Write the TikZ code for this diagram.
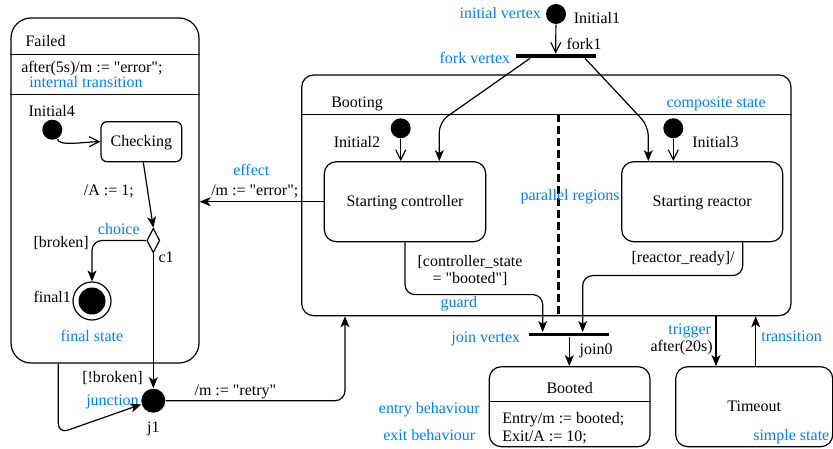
\documentclass[tikz,border=0pt]{standalone}
\usepackage{fontspec}
\setmainfont{Liberation Serif}[Ligatures=TeXOff]
\usepackage{tikz}
\usetikzlibrary{shapes.geometric,arrows.meta}
\definecolor{umlblue}{RGB}{0,127,255}

\begin{document}
\begin{tikzpicture}[x=1pt,y=-1pt,line width=1.2pt,
  font=\fontsize{16}{17.7}\selectfont,
  state/.style={draw,rounded corners=12pt,inner sep=0pt,text height=13.5pt,text depth=3pt},
  initial/.style={circle,fill=black,inner sep=0pt,minimum size=20pt},
  bar/.style={fill=black,inner sep=0pt,minimum width=80pt,minimum height=3.5pt},
  lbl/.style={anchor=west,inner sep=0pt,text height=13pt,text depth=3pt},
  note/.style={lbl,text=umlblue},
  trans/.style={-{Stealth[length=11pt,width=9pt,inset=3pt]},rounded corners=10pt},
  start/.style={-{Straight Barb[length=10pt,width=10pt]}}]
\useasboundingbox (0,0) rectangle (833,449);
%States
\node at (105,190.5) [draw,rounded corners=20pt,minimum width=188pt,minimum height=345pt] (Failed) {};
\node at (546.35,195.35) [state,minimum width=489.3pt,minimum height=240.7pt] (Booting) {};
\node at (141.35,141.7) [state,rounded corners=6pt,minimum width=80.7pt,minimum height=40pt] (Checking) {Checking};
\node at (405,201.7) [state,minimum width=161.4pt,minimum height=80pt] (StartCtrl) {Starting controller};
\node at (702.2,201.7) [state,minimum width=161pt,minimum height=80pt] (StartReact) {Starting reactor};
\node at (569.65,406.7) [state,minimum width=160.7pt,minimum height=80pt] (Booted) {};
\node at (754.2,406.7) [state,minimum width=157pt,minimum height=80pt] (Timeout) {Timeout};
%Compartments
\draw (Failed.west |- 0,54.3) -- (Failed.east |- 0,54.3);
\draw (Failed.west |- 0,94.3) -- (Failed.east |- 0,94.3);
\draw (Booting.west |- 0,114.3) -- (Booting.east |- 0,114.3);
\draw (Booted.west |- 0,401.7) -- (Booted.east |- 0,401.7);
\draw [line width=2.5pt,dash pattern=on 8pt off 4pt] (558.3,114.3) -- (Booting.south -| 558.3,0);
%Vertices
\node at (556,14) [initial] (Initial1) {};
\node at (400.7,128.3) [initial] (Initial2) {};
\node at (673.3,128.3) [initial] (Initial3) {};
\node at (52.3,129.7) [initial] (Initial4) {};
\node at (555.7,56) [bar] (fork1) {};
\node at (569.3,334.3) [bar] (join0) {};
\node at (153.3,240.5) [diamond,draw,fill=white,inner sep=0pt,minimum width=13pt,minimum height=24.5pt] (c1) {};
\node at (92,301) [circle,draw,inner sep=0pt,minimum size=38pt] (final1) {};
\node at (final1) [circle,fill=black,inner sep=0pt,minimum size=27pt] (final1dot) {};
\node at (153.3,400.7) [circle,fill=black,inner sep=0pt,minimum size=24pt] (j1) {};
%Node Labels
\node at (25,41.7) [lbl] (FailedName) {Failed};
\node at (20.7,67.8) [lbl] (FailedInt) {after(5s)/m := "error";};
\node at (28,111.7) [lbl] (Initial4Name) {Initial4};
\node at (83.3,190.7) [lbl] (CheckEffect) {/A := 1;};
\node at (158,257.3) [lbl] (c1Name) {c1};
\node at (33,242.7) [lbl] (BrokenGuard) {[broken]};
\node at (33,297) [lbl] (final1Name) {final1};
\node at (81.7,377.3) [lbl] (NotBrokenGuard) {[!broken]};
\node at (153.3,427) [lbl,anchor=center] (j1Name) {j1};
\node at (194,390) [lbl] (RetryEffect) {/m := "retry"};
\node at (573.3,18.3) [lbl] (Initial1Name) {Initial1};
\node at (566,44.3) [lbl] (fork1Name) {fork1};
\node at (330.7,102.7) [lbl] (BootingName) {Booting};
\node at (333.3,142.7) [lbl] (Initial2Name) {Initial2};
\node at (691.7,142.7) [lbl] (Initial3Name) {Initial3};
\node at (210.7,190.7) [lbl] (ErrorEffect) {/m := "error";};
\node at (470,270.5) [lbl,anchor=center,align=center,text height=,text depth=] (CtrlGuard) {[controller\_state\\= "booted"]};
\node at (631,257.3) [lbl] (ReactGuard) {[reactor\_ready]/};
\node at (579,349.3) [lbl] (join0Name) {join0};
\node at (569.65,388.3) [lbl,anchor=center] (BootedName) {Booted};
\node at (501.7,428) [lbl,anchor=west,align=left,text height=,text depth=] (BootedActs) {Entry/m := booted;\\Exit/A := 10;};
\node at (650,346.7) [lbl] (TimeoutTrigger) {after(20s)};
%Notes
\node at (28.7,83) [note] (NoteInternal) {internal transition};
\node at (97.3,230) [note] (NoteChoice) {choice};
\node at (60,336.7) [note] (NoteFinal) {final state};
\node at (85.7,400.7) [note] (NoteJunction) {junction};
\node at (459,14) [note] (NoteInitial) {initial vertex};
\node at (439,58.3) [note] (NoteFork) {fork vertex};
\node at (666,102.7) [note] (NoteComposite) {composite state};
\node at (520,196) [note] (NoteRegions) {parallel regions};
\node at (232.7,170.7) [note] (NoteEffect) {effect};
\node at (440,302.7) [note] (NoteGuard) {guard};
\node at (450.7,337.3) [note] (NoteJoin) {join vertex};
\node at (378.3,408.3) [note] (NoteEntry) {entry behaviour};
\node at (382.7,435) [note] (NoteExit) {exit behaviour};
\node at (667.7,329.3) [note] (NoteTrigger) {trigger};
\node at (760.7,336.7) [note] (NoteTransition) {transition};
\node at (752.7,435) [note] (NoteSimple) {simple state};
%Connections
\draw [start] (Initial1) -- (fork1.north);
\draw [start] (Initial2) -- (StartCtrl.north -| Initial2);
\draw [start] (Initial3) -- (StartReact.north -| Initial3);
\draw [start] (Initial4.-60) .. controls +(0,8) and +(-15,0) .. (Checking.west);
\draw [trans] (fork1.south -| 530,0) -- (439.3,122) -- (StartCtrl.north -| 439.3,0);
\draw [trans] (fork1.south -| 585,0) -- (648.3,126) -- (StartReact.north -| 648.3,0);
\draw [trans] (StartCtrl.west) -- (StartCtrl.west -| Failed.east);
\draw [trans] (Checking.south -| 143.3,0) -- (c1.north);
\draw [trans] (c1.west) -| (final1.north);
\draw [trans] (c1.south) -- (j1.north);
\draw [trans] (Failed.south -| 58.3,0) -- (58.3,433.5) -- (j1.197);
\draw [trans] (j1.east) -| (Booting.south -| 345,0);
\draw [trans] (StartCtrl.south) -- ++(0,52.3) -| (join0.north -| 542.7,0);
\draw [trans] (StartReact.south -| 742.7,0) -- ++(0,33.3) -| (join0.north -| 582.7,0);
\draw [trans] (join0) -- (Booted.north -| join0);
\draw [trans] (Booting.south -| 716,0) -- (Timeout.north -| 716,0);
\draw [trans] (Timeout.north -| 755.7,0) -- (Booting.south -| 755.7,0);
\end{tikzpicture}
\end{document}
